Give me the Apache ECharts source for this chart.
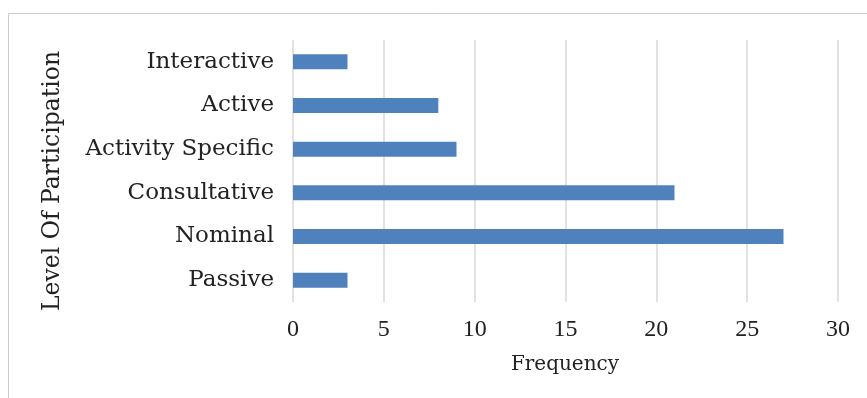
<!DOCTYPE html>
<html>
<head>
<meta charset="utf-8">
<script src="https://cdn.jsdelivr.net/npm/echarts@6/dist/echarts.min.js"></script>
<style>
  html, body { margin: 0; padding: 0; background: #ffffff; }
  #chart { width: 867px; height: 398px; }
</style>
</head>
<body>
<div id="chart"></div>
<script>
// Participation levels, listed bottom to top
const categories = ['Passive', 'Nominal', 'Consultative', 'Activity Specific', 'Active', 'Interactive'];
// Number of cases at each level
const frequency = [3, 27, 21, 9, 8, 3];
// Frequency axis ticks
const xTicks = [0, 5, 10, 15, 20, 25, 30];

const labelFont = 'DejaVu Serif';
const numberFont = 'Liberation Serif';

const chart = echarts.init(document.getElementById('chart'), null, { renderer: 'canvas' });

chart.setOption({
  backgroundColor: '#ffffff',
  animation: false,
  grid: { left: 293, right: 29, top: 40, bottom: 96, containLabel: false },
  xAxis: {
    type: 'value',
    min: xTicks[0],
    max: xTicks[xTicks.length - 1],
    interval: xTicks[1] - xTicks[0],
    axisLine: { show: false },
    axisTick: { show: false },
    splitLine: { show: true, lineStyle: { color: '#d9d9d9', width: 1.5 } },
    axisLabel: {
      margin: 16,
      color: '#222222',
      fontFamily: numberFont,
      fontSize: 24
    }
  },
  yAxis: {
    type: 'category',
    data: categories,
    axisLine: { show: false },
    axisTick: { show: false },
    splitLine: { show: false },
    axisLabel: {
      margin: 19,
      color: '#222222',
      fontFamily: labelFont,
      fontSize: 23,
      padding: [2, 0, 0, 0]
    }
  },
  series: [{
    type: 'bar',
    data: frequency,
    barWidth: 15,
    itemStyle: { color: '#4f81bd' }
  }],
  graphic: [
    {
      type: 'rect',
      silent: true,
      shape: { x: 8.5, y: 13.5, width: 870, height: 400 },
      style: { fill: 'none', stroke: '#cccccc', lineWidth: 1 }
    },
    {
      type: 'text',
      silent: true,
      x: 565,
      y: 365,
      style: {
        text: 'Frequency',
        fontFamily: labelFont,
        fontSize: 20,
        fill: '#222222',
        align: 'center',
        verticalAlign: 'middle'
      }
    },
    {
      type: 'text',
      silent: true,
      x: 53,
      y: 181,
      rotation: Math.PI / 2,
      style: {
        text: 'Level Of Participation',
        fontFamily: labelFont,
        fontSize: 23.5,
        fill: '#222222',
        align: 'center',
        verticalAlign: 'middle'
      }
    }
  ]
});
</script>
</body>
</html>
